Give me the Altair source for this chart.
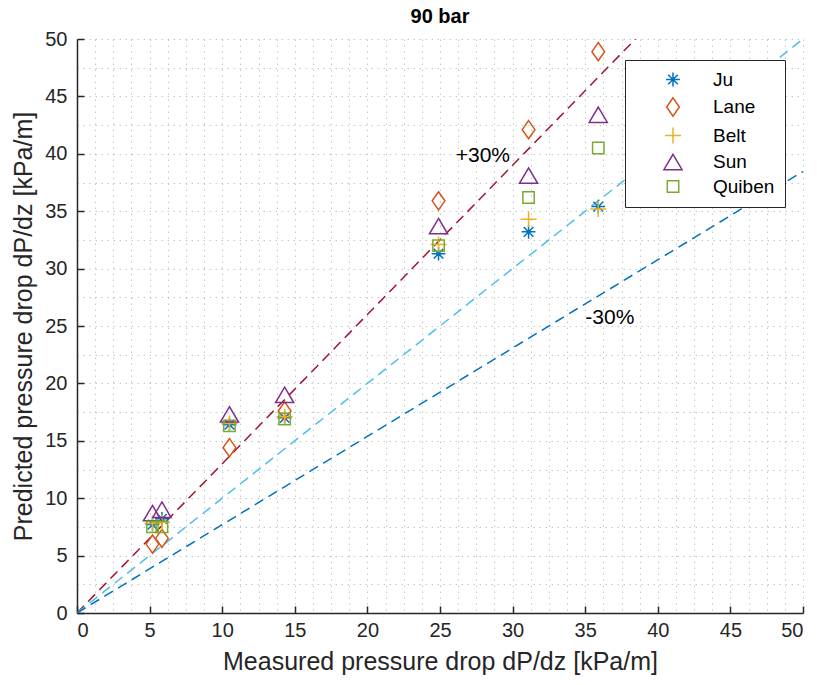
import altair as alt
import pandas as pd

# ---------------- data ----------------
series = ["Ju", "Lane", "Belt", "Sun", "Quiben"]
measured = [5.2, 5.85, 10.5, 14.3, 24.9, 31.1, 35.9]
ju = [7.7, 8.2, 16.4, 17.0, 31.3, 33.2, 35.4]
lane = [6.0, 6.5, 14.4, 17.6, 35.9, 42.1, 48.9]
belt = [7.8, 7.9, 16.5, 17.1, 32.1, 34.3, 35.2]
sun = [8.7, 9.0, 17.3, 19.0, 33.7, 38.1, 43.4]
quiben = [7.5, 7.5, 16.3, 16.9, 32.0, 36.2, 40.5]

colors = ["#0072BD", "#D95319", "#EDB120", "#7E2F8E", "#77AC30"]
shapes = [
    "M-1,0L1,0M0,-1L0,1M-0.7,-0.7L0.7,0.7M-0.7,0.7L0.7,-0.7",
    "M0,-1L0.7,0L0,1L-0.7,0Z",
    "M-1,0L1,0M0,-1L0,1",
    "M0,-0.85L1,0.85L-1,0.85Z",
    "M-1,-1L1,-1L1,1L-1,1Z",
]
sizes = [190, 330, 260, 330, 130]

ref_names = ["+30%", "0%", "-30%"]
ref_slopes = [1.3, 1.0, 1 / 1.3]
ref_colors = ["#A2142F", "#4DBEEE", "#0072BD"]
axis_max = 50

label_text = ["+30%", "-30%"]
label_x = [27.95, 36.7]
label_y = [39.8, 25.7]

major_ticks = [0, 5, 10, 15, 20, 25, 30, 35, 40, 45, 50]
x_grid = [i * 1.25 for i in range(41)]
y_grid = [i * 2.5 for i in range(21)]

W, H = 726, 574
TICK = 7
FONT = "Liberation Sans"

rows = []
for name, vals in zip(series, [ju, lane, belt, sun, quiben]):
    for xv, yv in zip(measured, vals):
        rows.append({"series": name, "measured": xv, "predicted": yv})
df = pd.DataFrame(rows)

# reference lines y = s*x, from the origin to where they leave the 0..50 box
ref_rows = []
for n, s in zip(ref_names, ref_slopes):
    for xv in [0, min(axis_max, axis_max / s)]:
        ref_rows.append({"ref": n, "x": xv, "y": xv * s})
ref_df = pd.DataFrame(ref_rows)

lab_df = pd.DataFrame({"text": label_text, "x": label_x, "y": label_y})

xs = alt.Scale(domain=[0, axis_max], nice=False, zero=False)
ys = alt.Scale(domain=[0, axis_max], nice=False, zero=False)

only_major = "datum.value % 5 === 0 ? datum.label : ''"

base_ref = alt.Chart(ref_df)

# main axes layer: grid at minor positions, labels only at majors
axes_layer = base_ref.mark_line(opacity=0).encode(
    x=alt.X("x:Q", scale=xs, axis=alt.Axis(orient="bottom", values=x_grid, grid=True, ticks=False,
                                          gridDash=[1.5, 4.5], gridColor="#8f8f8f", gridOpacity=0.5,
                                          labelExpr=only_major, labelOverlap=False,
                                          domain=True, domainColor="#262626", domainWidth=1.5,
                                          labelFontSize=20, labelColor="#262626", labelPadding=7,
                                          title="Measured pressure drop dP/dz [kPa/m]",
                                          titleFontSize=25, titleFontWeight="normal", titleColor="#262626",
                                          titlePadding=9)),
    y=alt.Y("y:Q", scale=ys, axis=alt.Axis(orient="left", values=y_grid, grid=True, ticks=False,
                                          gridDash=[1.5, 4.5], gridColor="#8f8f8f", gridOpacity=0.5,
                                          labelExpr=only_major, labelOverlap=False,
                                          domain=True, domainColor="#262626", domainWidth=1.5,
                                          labelFontSize=20, labelColor="#262626", labelPadding=10,
                                          title="Predicted pressure drop dP/dz [kPa/m]",
                                          titleFontSize=25, titleFontWeight="normal", titleColor="#262626",
                                          titlePadding=8)),
    detail="ref:N",
)

# inward ticks: axes pulled inside the plot so their outward ticks end on the frame
ticks = base_ref.mark_line(opacity=0).encode(
    x=alt.X("x:Q", scale=xs, axis=alt.Axis(orient="bottom", offset=-TICK, values=major_ticks, grid=False,
                                          ticks=True, tickSize=TICK, tickWidth=1.5, tickColor="#262626",
                                          labels=False, domain=False, title=None)),
    y=alt.Y("y:Q", scale=ys, axis=alt.Axis(orient="left", offset=-TICK, values=major_ticks, grid=False,
                                          ticks=True, tickSize=TICK, tickWidth=1.5, tickColor="#262626",
                                          labels=False, domain=False, title=None)),
    detail="ref:N",
)

ref_layers = []
for name, col in zip(ref_names, ref_colors):
    ref_layers.append(
        base_ref.transform_filter(alt.datum.ref == name)
        .mark_line(strokeDash=[10, 6], strokeWidth=1.5, clip=True, color=col)
        .encode(
            x=alt.X("x:Q", scale=xs, axis=None),
            y=alt.Y("y:Q", scale=ys, axis=None),
        )
    )

texts = alt.Chart(lab_df).mark_text(fontSize=21, font=FONT, color="#000000").encode(
    x=alt.X("x:Q", scale=xs, axis=None),
    y=alt.Y("y:Q", scale=ys, axis=None),
    text="text:N",
)

points = alt.Chart(df).mark_point(filled=False, strokeWidth=1.5, opacity=1).encode(
    x=alt.X("measured:Q", scale=xs, axis=None),
    y=alt.Y("predicted:Q", scale=ys, axis=None),
    color=alt.Color("series:N", scale=alt.Scale(domain=series, range=colors),
                    legend=alt.Legend(title=None, orient="none", legendX=548, legendY=21,
                                      labelFontSize=19, labelFont=FONT, labelColor="#000000",
                                      strokeColor="#262626", fillColor="#ffffff", padding=10,
                                      symbolOffset=28, labelOffset=30, rowPadding=4,
                                      symbolStrokeWidth=1.5, labelLimit=200)),
    shape=alt.Shape("series:N", scale=alt.Scale(domain=series, range=shapes)),
    size=alt.Size("series:N", scale=alt.Scale(type="ordinal", domain=series, range=sizes)),
)

chart = alt.layer(axes_layer, ticks, *ref_layers, texts, points).resolve_axis(
    x="independent", y="independent"
).properties(
    width=W, height=H,
    title=alt.TitleParams("90 bar", fontSize=20, fontWeight="bold", font=FONT, color="#000000",
                          anchor="middle", offset=2, frame="group"),
    padding={"left": 77, "top": 39, "right": 14, "bottom": 72},
    autosize="none",
).configure(font=FONT).configure_view(stroke=None)

chart.save("out.html", embed_options={"renderer": "svg", "actions": False})
